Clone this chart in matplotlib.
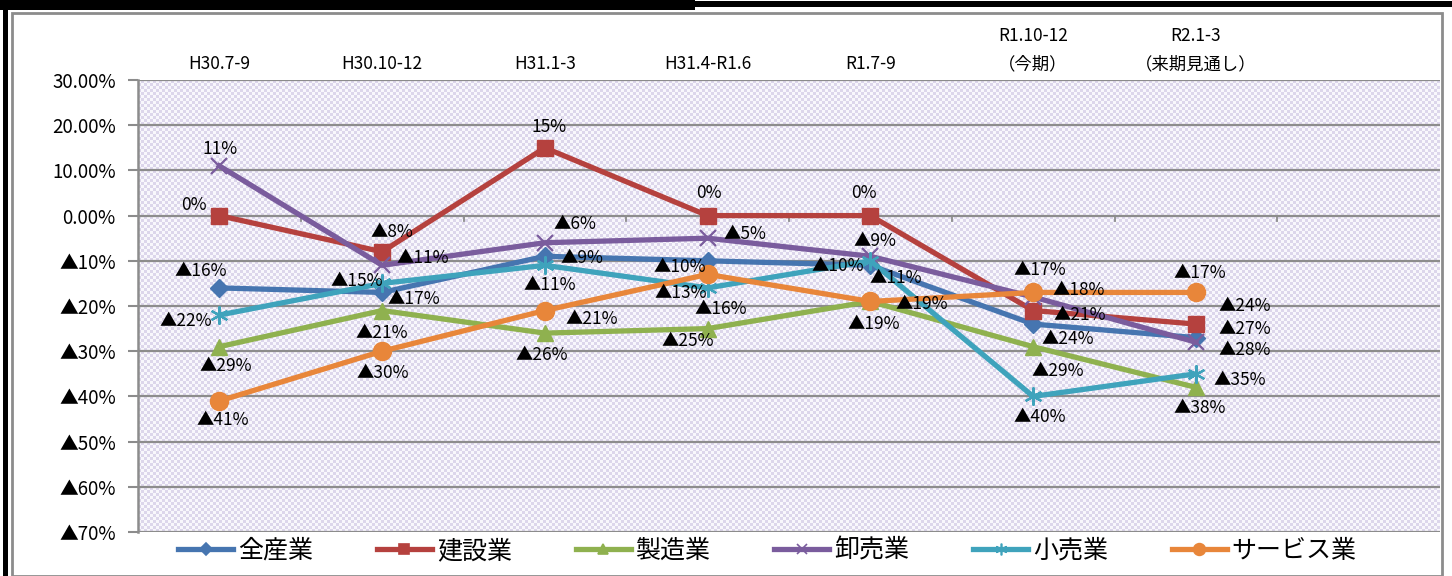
import numpy as np
import matplotlib
matplotlib.use("Agg")
import matplotlib.pyplot as plt
from matplotlib.patches import Rectangle
from matplotlib.lines import Line2D
from matplotlib.colors import ListedColormap

plt.rcParams['font.family'] = ['Noto Sans CJK JP', 'DejaVu Sans']

# ---------------- data ----------------
categories = ["H30.7-9", "H30.10-12", "H31.1-3", "H31.4-R1.6", "R1.7-9",
              "R1.10-12\n（今期）", "R2.1-3\n（来期見通し）"]
series_names = ["全産業", "建設業", "製造業", "卸売業", "小売業", "サービス業"]
all_industry = [-16, -17, -9, -10, -11, -24, -27]
construction = [0, -8, 15, 0, 0, -21, -24]
manufacturing = [-29, -21, -26, -25, -19, -29, -38]
wholesale = [11, -11, -6, -5, -9, -18, -28]
retail = [-22, -15, -11, -16, -10, -40, -35]
services = [-41, -30, -21, -13, -19, -17, -17]
y_ticks = [30, 20, 10, 0, -10, -20, -30, -40, -50, -60, -70]

# ---------------- styles ----------------
colors = ['#4675b0', '#b5413e', '#8fb14f', '#7a5c9d', '#3fa3bc', '#e8863a']
markers = ['D', 's', '^', 'x', (6, 2, 0), 'o']
msizes = [9, 12, 11, 12, 13, 13]
# label offsets in pixels (dx, dy), dy positive = up
label_offsets = [
    [(-19, 17), (32, -7), (37, -2), (-28, -6), (25, -13), (35, -15), (49, 9)],
    [(-26, 11), (10, 20), (4, 21), (1, 23), (-6, 23), (47, -4), (49, 18)],
    [(6, -19), (0, -22), (-3, -22), (-20, -12), (3, -23), (25, -24), (4, -21)],
    [(1, 17), (41, 7), (30, 19), (37, 4), (5, 15), (46, 7), (49, -8)],
    [(-34, -6), (-25, 2), (5, -20), (13, -21), (-33, -5), (7, -21), (44, -6)],
    [(3, -19), (1, -22), (47, -8), (-27, -19), (51, -3), (7, 22), (4, 19)],
]

W, H = 1452, 576
fig = plt.figure(figsize=(W / 100, H / 100), dpi=100)
fig.patch.set_facecolor('white')


def fx(px):
    return px / W


def fy(py):
    return 1 - py / H


# frame decorations
fig.add_artist(Rectangle((fx(12), fy(576)), fx(1442) - fx(12), fy(13) - fy(576),
                         transform=fig.transFigure, fill=False, edgecolor='#8c8c8c', lw=2))
fig.add_artist(Rectangle((0, fy(7)), 1, fy(1) - fy(7), transform=fig.transFigure,
                         facecolor='black', edgecolor='none'))
fig.add_artist(Rectangle((0, fy(10)), fx(695), fy(0) - fy(10), transform=fig.transFigure,
                         facecolor='black', edgecolor='none'))
fig.add_artist(Rectangle((fx(3), 0), fx(5), 1, transform=fig.transFigure,
                         facecolor='black', edgecolor='none'))

left, right, top, bottom = 138, 1440, 80, 532
ax = fig.add_axes([fx(left), fy(bottom), fx(right) - fx(left), fy(top) - fy(bottom)])

n_slots = len(categories) + 1
xlim = (-0.5, n_slots - 0.5)
ylim = (min(y_ticks), max(y_ticks))

# checkerboard background
rows, cols = (bottom - top) // 3, (right - left) // 3
yy, xx = np.mgrid[0:rows, 0:cols]
chk = ((xx + yy) % 2).astype(float)
cmap = ListedColormap(['#f8f7fc', '#dcd6eb'])
ax.imshow(chk, cmap=cmap, extent=(xlim[0], xlim[1], ylim[0], ylim[1]),
          aspect='auto', interpolation='nearest', zorder=0)

ax.set_xlim(*xlim)
ax.set_ylim(*ylim)

for yv in y_ticks:
    ax.axhline(yv, color='#8c8c8c', lw=1.6, zorder=1)

# category boundary ticks on the zero line
for b in np.arange(len(categories)) + 0.5:
    ax.plot([b, b], [0, -1.1], color='#8c8c8c', lw=1.3, zorder=1)

for sp in ['top', 'right', 'bottom']:
    ax.spines[sp].set_visible(False)
ax.spines['left'].set_color('#8c8c8c')
ax.spines['left'].set_linewidth(1.8)

ax.set_yticks(y_ticks)
ax.set_yticklabels([f"{v:.2f}%" if v >= 0 else f"▲{-v}%" for v in y_ticks], fontsize=13.5)
ax.tick_params(axis='y', length=7, width=1.5, color='#8c8c8c', pad=9)

ax.xaxis.tick_top()
ax.set_xticks(range(len(categories)))
ax.set_xticklabels(categories, fontsize=12.5, linespacing=1.75)
ax.tick_params(axis='x', length=0, pad=5)

data = [all_industry, construction, manufacturing, wholesale, retail, services]
x = np.arange(len(categories))
for i, vals in enumerate(data):
    mew = 1.6 if markers[i] in ('x',) or isinstance(markers[i], tuple) else 1
    ax.plot(x, vals, color=colors[i], lw=3.8, marker=markers[i],
            markersize=msizes[i], markeredgewidth=mew,
            markeredgecolor=colors[i], markerfacecolor=colors[i],
            zorder=3 + i, label=series_names[i])
    for j, v in enumerate(vals):
        txt = f"{v}%" if v >= 0 else f"▲{-v}%"
        dx, dy = label_offsets[i][j]
        ax.annotate(txt, (x[j], v), xytext=(dx, dy), textcoords='offset pixels',
                    ha='center', va='center', fontsize=12.5, color='black', zorder=20)

leg_handles = [Line2D([], [], color=colors[i], lw=3.8, marker=markers[i],
                      markersize=msizes[i] * 0.65,
                      markeredgewidth=1.2, markeredgecolor=colors[i],
                      markerfacecolor=colors[i]) for i in range(len(series_names))]
fig.legend(leg_handles, series_names, loc='center left',
           bbox_to_anchor=(fx(178), fy(551)), ncol=6, frameon=False,
           fontsize=18, handlelength=2.2, handletextpad=0.2, columnspacing=2.55,
           borderpad=0, borderaxespad=0)

fig.savefig('out.png', dpi=100, facecolor='white')
